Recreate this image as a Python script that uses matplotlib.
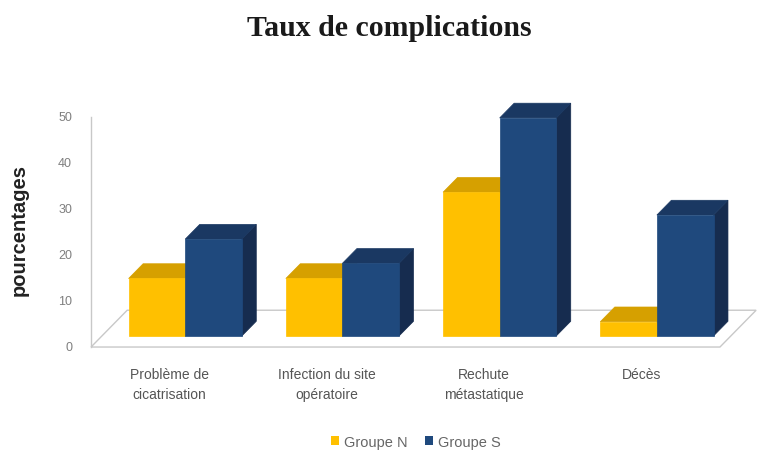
import matplotlib.pyplot as plt
from matplotlib.patches import Polygon, Patch

categories = ["Problème de\ncicatrisation", "Infection du site\nopératoire",
              "Rechute\nmétastatique", "Décès"]
groupe_n = [12.5, 12.5, 31.25, 3.1]
groupe_s = [21.05, 15.8, 47.4, 26.3]
y_ticks = [0, 10, 20, 30, 40, 50]

# oblique projection of the floor depth (z in 0..1)
DEPTH_X = 0.23
DEPTH_Y = 8.0
BAR_Z0, BAR_Z1 = 0.30, 0.70
BAR_W = 0.36
GROUP_MID = 0.53

FACES = {
    "N": ("#FFC000", "#D6A000", "#B98A00"),
    "S": ("#1F497D", "#1A3862", "#162C4F"),
}


def proj(x, y, z):
    return (x + z * DEPTH_X, y + z * DEPTH_Y)


def draw_bar(ax, x0, h, colors):
    front, top, side = colors
    x1 = x0 + BAR_W
    side_pts = [proj(x1, 0, BAR_Z0), proj(x1, 0, BAR_Z1), proj(x1, h, BAR_Z1), proj(x1, h, BAR_Z0)]
    top_pts = [proj(x0, h, BAR_Z0), proj(x1, h, BAR_Z0), proj(x1, h, BAR_Z1), proj(x0, h, BAR_Z1)]
    front_pts = [proj(x0, 0, BAR_Z0), proj(x1, 0, BAR_Z0), proj(x1, h, BAR_Z0), proj(x0, h, BAR_Z0)]
    for pts, c in ((side_pts, side), (top_pts, top), (front_pts, front)):
        ax.add_patch(Polygon(pts, closed=True, facecolor=c, edgecolor=c, linewidth=0.5, zorder=3))


fig = plt.figure(figsize=(7.58, 4.52), dpi=100)
ax = fig.add_axes([0, 0, 1, 1])
ax.set_xlim(-0.579, 4.242)
ax.set_ylim(-22.6, 75.65)
ax.axis("off")

n = len(categories)

# floor
floor = [proj(0, 0, 0), proj(n, 0, 0), proj(n, 0, 1), proj(0, 0, 1)]
ax.add_patch(Polygon(floor, closed=True, facecolor="white", edgecolor="#c8c8c8", linewidth=1.0, zorder=1))
ax.plot([0, 0], [0, y_ticks[-1]], color="#c8c8c8", linewidth=1.0, zorder=1)

for i in range(n):
    draw_bar(ax, i + GROUP_MID - BAR_W, groupe_n[i], FACES["N"])
    draw_bar(ax, i + GROUP_MID, groupe_s[i], FACES["S"])

for t in y_ticks:
    ax.text(-0.12, t, str(t), ha="right", va="center", fontsize=9,
            color="#7f7f7f", family="Liberation Sans")

for i, lab in enumerate(categories):
    ax.text(i + 0.5, -4.3, lab, ha="center", va="top", fontsize=10,
            color="#555555", family="Liberation Sans", linespacing=1.6)

ax.text(-0.455, 25.6, "pourcentages", rotation=90, ha="center", va="center",
        fontsize=14.5, fontweight="bold", color="#222222", family="Liberation Sans")

fig.text(0.513, 0.938, "Taux de complications", ha="center", va="center",
         fontsize=21.5, fontweight="bold", family="Liberation Serif", color="#1a1a1a")

handles = [Patch(facecolor=FACES["N"][0], label="Groupe N"),
           Patch(facecolor=FACES["S"][0], label="Groupe S")]
ax.legend(handles=handles, loc="center", bbox_to_anchor=(0.549, 0.02), ncol=2,
          frameon=False, handlelength=0.55, handleheight=0.55,
          handletextpad=0.35, columnspacing=1.2, labelcolor="#666666",
          prop={"family": "Liberation Sans", "size": 10.5})

fig.savefig("out.png", dpi=100)
